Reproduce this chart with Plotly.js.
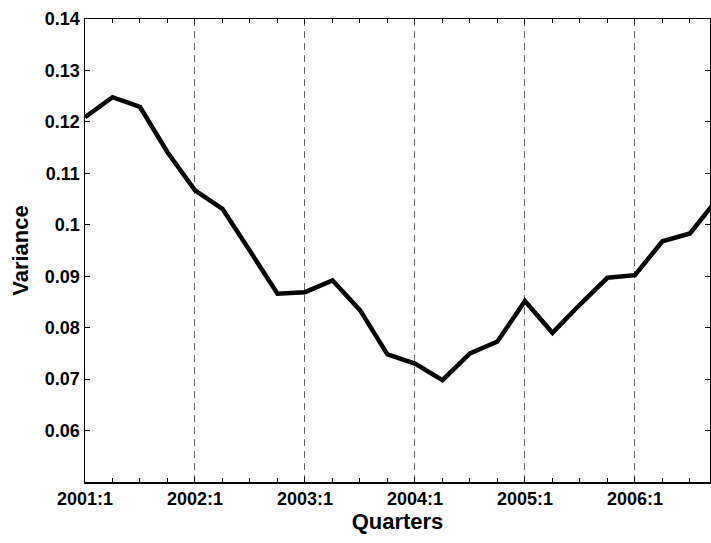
<!DOCTYPE html>
<html>
<head>
<meta charset="utf-8">
<script src="https://cdn.plot.ly/plotly-3.0.1.min.js"></script>
<style>html,body{margin:0;padding:0;background:#fff;}#chart{width:711px;height:543px;}</style>
</head>
<body>
<div id="chart"></div>
<script>
const quarters = ["2001:1","2001:2","2001:3","2001:4","2002:1","2002:2","2002:3","2002:4",
  "2003:1","2003:2","2003:3","2003:4","2004:1","2004:2","2004:3","2004:4",
  "2005:1","2005:2","2005:3","2005:4","2006:1","2006:2","2006:3","2006:4"];
const variance = [0.1209,0.1248,0.1229,0.1141,0.1067,0.1031,0.0949,0.0866,
  0.0869,0.0892,0.0834,0.0748,0.0730,0.0698,0.0750,0.0773,
  0.0852,0.0790,0.0845,0.0897,0.0902,0.0968,0.0983,0.1050];
const yTicks = [0.06,0.07,0.08,0.09,0.1,0.11,0.12,0.13,0.14];

const xIdx = quarters.map((q,i)=>i);
const yearIdx = xIdx.filter(i=>quarters[i].endsWith(":1"));
const yearLbl = yearIdx.map(i=>quarters[i]);

const fontBase = {family:"Liberation Sans, Arial, sans-serif", color:"#000", weight:700};

Plotly.newPlot("chart", [{
  x: xIdx, y: variance, type:"scatter", mode:"lines",
  line:{color:"#000", width:4.5}, hoverinfo:"skip"
}], {
  width:711, height:543,
  margin:{l:85, r:1, t:19, b:61, pad:0},
  paper_bgcolor:"#fff", plot_bgcolor:"#fff",
  showlegend:false,
  font: fontBase,
  xaxis:{
    range:[0, 22.73], tickvals:yearIdx, ticktext:yearLbl,
    ticks:"inside", ticklen:5, tickcolor:"#000", tickwidth:1,
    showline:true, linecolor:"#000", linewidth:1.5, mirror:"ticks",
    showgrid:true, gridcolor:"#666", gridwidth:1, griddash:"7px,5px",
    zeroline:false,
    minor:{ticks:"inside", ticklen:4, dtick:1, tick0:0, tickcolor:"#000", showgrid:false},
    tickfont:{...fontBase, size:18},
    title:{text:"Quarters", font:{...fontBase, size:22}, standoff:4}
  },
  yaxis:{
    range:[0.05, 0.14], tickvals:yTicks, ticktext:yTicks.map(v=>String(v)),
    ticks:"inside", ticklen:5, tickcolor:"#000", tickwidth:1,
    showline:true, linecolor:"#000", linewidth:1.5, mirror:"ticks",
    showgrid:false, zeroline:false,
    tickfont:{...fontBase, size:18},
    title:{text:"Variance", font:{...fontBase, size:22}, standoff:10}
  }
}, {staticPlot:true});
</script>
</body>
</html>
